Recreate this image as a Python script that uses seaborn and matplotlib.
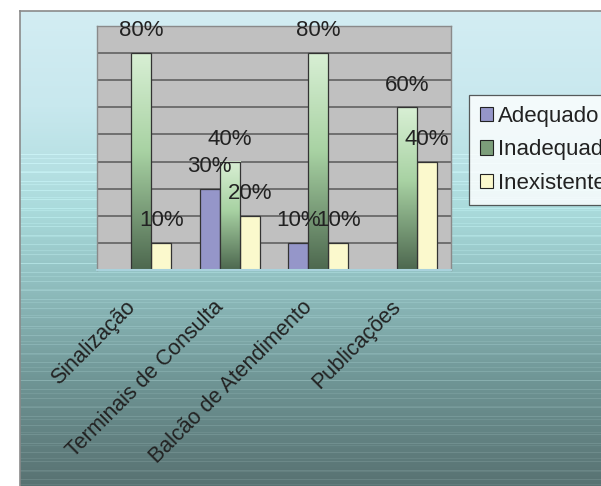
import numpy as np
import pandas as pd
import matplotlib
matplotlib.use("Agg")
import matplotlib.pyplot as plt
import matplotlib.transforms as mtransforms
from matplotlib.colors import LinearSegmentedColormap
from matplotlib.patches import Patch
import seaborn as sns

categorias = ["Sinalização", "Terminais de Consulta", "Balcão de Atendimento", "Publicações"]
series = ["Adequado", "Inadequado", "Inexistente"]
adequado = [0, 30, 10, 0]
inadequado = [80, 40, 80, 60]
inexistente = [10, 20, 10, 40]

cores = ["#9596c9", "#8fb58c", "#fbf9cd"]

df = pd.DataFrame({
    "categoria": categorias * 3,
    "serie": [s for s in series for _ in categorias],
    "valor": adequado + inadequado + inexistente,
})

sns.set_theme(style="white")
plt.rcParams["font.family"] = ["Liberation Sans", "DejaVu Sans"]
plt.rcParams["text.color"] = "#222222"

W, H = 601, 486
fig = plt.figure(figsize=(W / 100, H / 100), dpi=100)
fig.patch.set_facecolor("white")

# background panel with vertical gradient + faint streaks
bg = fig.add_axes([20 / W, 0, 1 - 20 / W, 1 - 11 / H], zorder=-5)
bg_cmap = LinearSegmentedColormap.from_list(
    "bg", [(0.0, "#d3edf3"), (0.2, "#c8e8ee"), (0.42, "#aadbdc"),
           (0.55, "#94c3c4"), (0.78, "#6f9595"), (1.0, "#587272")])
rows = 475
grad = np.linspace(0, 1, rows)
streak = np.zeros(rows)
streak[np.arange(0, rows) % 9 == 0] = 0.06
streak[np.arange(0, rows) % 13 == 5] += 0.04
img = bg_cmap(grad)[:, None, :3].repeat(2, axis=1)
img = np.clip(img + streak[:, None, None] * (grad[:, None, None] > 0.3), 0, 1)
bg.imshow(img, aspect="auto", interpolation="nearest", extent=(0, 1, 0, 1))
bg.set_xlim(0, 1)
bg.set_ylim(0, 1)
bg.set_xticks([])
bg.set_yticks([])
for side, sp in bg.spines.items():
    sp.set_visible(side in ("left", "top"))
    sp.set_color("#8a8a8a")
    sp.set_linewidth(1.2)

ax = fig.add_axes([97 / W, 1 - 270 / H, (451 - 97) / W, (270 - 26) / H])
sns.barplot(data=df, x="categoria", y="valor", hue="serie", palette=cores,
            saturation=1, width=0.68, edgecolor="#333333", linewidth=0.9,
            legend=False, ax=ax)

ax.set_facecolor("#c0c0c0")
ax.set_yticks(range(10, 90, 10))
ax.set_yticklabels([])
ax.tick_params(axis="y", length=0)
ax.yaxis.grid(True, color="#5a5a5a", linewidth=1.1)
ax.set_axisbelow(True)
ax.set_xlabel("")
ax.set_ylabel("")
for side in ("left", "top", "right"):
    ax.spines[side].set_color("#8a8a8a")
    ax.spines[side].set_linewidth(1.0)
ax.spines["bottom"].set_color("#a9d2dc")
ax.spines["bottom"].set_linewidth(1.5)

# gradient fill for Inadequado bars
bar_cmap = LinearSegmentedColormap.from_list(
    "inad", [(0.0, "#4d684f"), (0.55, "#a8d2a3"), (1.0, "#d8efd4")])
for bar in ax.containers[1]:
    x0, w, h = bar.get_x(), bar.get_width(), bar.get_height()
    grad_bar = np.linspace(0, 1, 128)[:, None]
    ax.imshow(grad_bar, cmap=bar_cmap, origin="lower", aspect="auto",
              extent=(x0, x0 + w, 0, h), zorder=bar.get_zorder() + 0.1)
    bar.set_facecolor("none")
    bar.set_zorder(bar.get_zorder() + 0.2)
ax.set_xlim(-0.5, len(categorias) - 0.5)
ax.set_ylim(0, 90)

# hide zero-height bars
for cont in ax.containers:
    for bar in cont:
        if bar.get_height() == 0:
            bar.set_visible(False)

# data labels
for cont in ax.containers:
    for bar in cont:
        h = bar.get_height()
        if h > 0:
            ax.annotate(f"{h:.0f}%", (bar.get_x() + bar.get_width() / 2, h),
                        xytext=(0, 16), textcoords="offset points",
                        ha="center", va="center", fontsize=16,
                        color="#222222", zorder=10, annotation_clip=False)

# x ticks: labels at centres, small marks at boundaries
ax.set_xticks(range(len(categorias)))
ax.set_xticklabels(categorias, rotation=45, ha="right", va="top",
                   rotation_mode="anchor", fontsize=15.5, color="#222222")
ax.tick_params(axis="x", which="major", length=0, pad=19)
ax.set_xticks(np.arange(-0.5, len(categorias)), minor=True)
ax.tick_params(axis="x", which="minor", length=4, color="#a9d2dc", width=1)
shift = mtransforms.ScaledTranslation(-17 / 100, 0, fig.dpi_scale_trans)
for lab in ax.get_xticklabels():
    lab.set_transform(lab.get_transform() + shift)

handles = [Patch(facecolor=c, edgecolor="#222222", linewidth=0.8) for c in
           [cores[0], "#7c9e7a", cores[2]]]
leg = fig.legend(handles, series, loc="upper left",
                 bbox_to_anchor=(469 / W, 1 - 95 / H), fontsize=16,
                 frameon=True, fancybox=False, handlelength=0.6,
                 handleheight=0.6, handletextpad=0.2, labelspacing=0.55,
                 borderpad=0.5, borderaxespad=0)
leg.get_frame().set_edgecolor("#333333")
leg.get_frame().set_linewidth(0.9)
leg.get_frame().set_facecolor("white")

fig.savefig("out.png", dpi=100)
